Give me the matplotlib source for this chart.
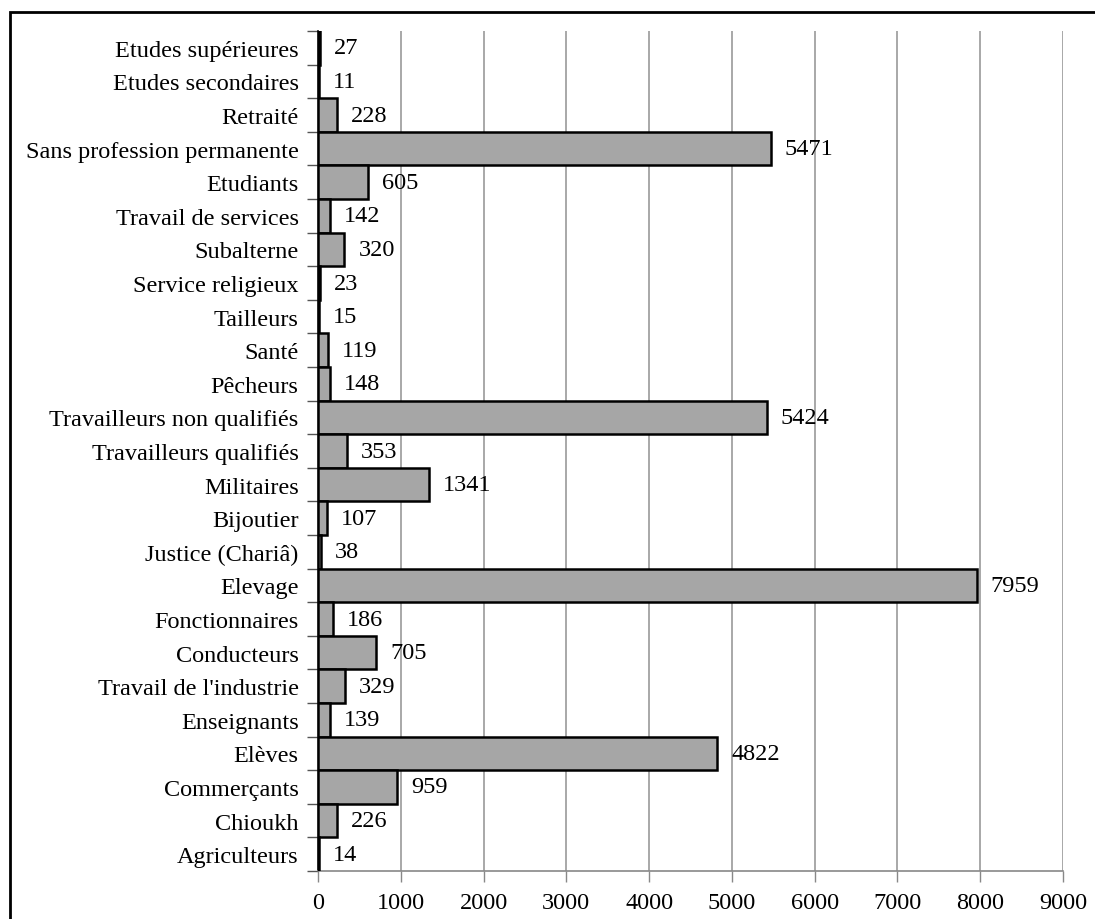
import matplotlib
matplotlib.use("Agg")
import matplotlib.pyplot as plt
from matplotlib.patches import Rectangle
import numpy as np

categories = [
    "Etudes supérieures", "Etudes secondaires", "Retraité",
    "Sans profession permanente", "Etudiants", "Travail de services",
    "Subalterne", "Service religieux", "Tailleurs", "Santé", "Pêcheurs",
    "Travailleurs non qualifiés", "Travailleurs qualifiés", "Militaires",
    "Bijoutier", "Justice (Chariâ)", "Elevage", "Fonctionnaires",
    "Conducteurs", "Travail de l'industrie", "Enseignants", "Elèves",
    "Commerçants", "Chioukh", "Agriculteurs",
]
values = [27, 11, 228, 5471, 605, 142, 320, 23, 15, 119, 148, 5424, 353,
          1341, 107, 38, 7959, 186, 705, 329, 139, 4822, 959, 226, 14]
xticks = [0, 1000, 2000, 3000, 4000, 5000, 6000, 7000, 8000, 9000]

plt.rcParams['font.family'] = ['Liberation Serif', 'DejaVu Serif']

fig = plt.figure(figsize=(10.95, 9.2), dpi=100)
ax = fig.add_axes([318/1095, 1-872/920, (1063-318)/1095, (872-32)/920])

n = len(categories)
y = np.arange(n)
ax.barh(y, values, height=1.0, color='#a6a6a6', edgecolor='black',
        linewidth=1.8, zorder=3)
ax.set_ylim(n - 0.5, -0.5)
ax.set_xlim(0, 9000)

ax.set_yticks(y)
ax.set_yticklabels(categories, fontsize=17.5)
ax.tick_params(axis='y', which='major', length=0, pad=14)
ax.set_yticks(np.arange(n + 1) - 0.5, minor=True)
ax.tick_params(axis='y', which='minor', length=8, color='#555555', width=1)

ax.set_xticks(xticks)
ax.set_xticklabels([str(t) for t in xticks], fontsize=17.5)
ax.tick_params(axis='x', length=8, color='#888888', width=1, pad=7)

ax.grid(axis='x', color='#999999', linewidth=1.2, zorder=0)
ax.set_axisbelow(True)
for s in ['top', 'right']:
    ax.spines[s].set_visible(False)
ax.spines['left'].set_color('black')
ax.spines['left'].set_linewidth(1.2)
ax.spines['bottom'].set_color('#888888')
ax.spines['bottom'].set_linewidth(1.2)

for yi, v in zip(y, values):
    ax.annotate(str(v), xy=(v, yi), xytext=(10, 0), textcoords='offset points',
                va='center', ha='left', fontsize=17.5, zorder=4)

fig.patches.append(Rectangle((10/1095, -0.05), 1.2, 1 - 13/920 + 0.05,
                             transform=fig.transFigure, fill=False,
                             edgecolor='black', linewidth=2))

fig.savefig('out.png', dpi=100)
